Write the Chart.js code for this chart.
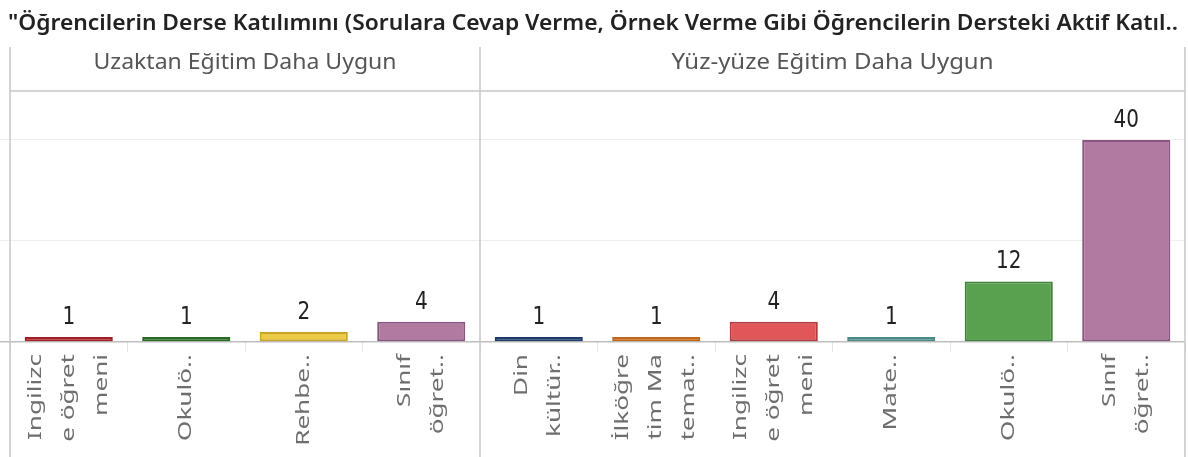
<!DOCTYPE html>
<html lang="tr">
<head>
<meta charset="utf-8">
<script src="https://cdn.jsdelivr.net/npm/chart.js@4.4.1/dist/chart.umd.min.js"></script>
<style>
  html, body { margin: 0; padding: 0; background: #fff; }
  #wrap { position: relative; width: 1188px; height: 457px; overflow: hidden; }
  #chart { position: absolute; left: 0; top: 0; }
  #title {
    position: absolute; left: 8px; top: 6px;
    display: inline-block; white-space: nowrap;
    font: 600 22px/30px "Noto Sans", sans-serif; color: #222;
    transform-origin: 0 0;
  }
</style>
</head>
<body>
<div id="wrap">
  <canvas id="chart" width="1188" height="457"></canvas>
  <div id="title">"Öğrencilerin Derse Katılımını (Sorulara Cevap Verme, Örnek Verme Gibi Öğrencilerin Dersteki Aktif Katıl..</div>
</div>
<script>
// panel basliklari
const panels = ['Uzaktan Eğitim Daha Uygun', 'Yüz-yüze Eğitim Daha Uygun'];

// kategoriler (Tableau'daki gibi kesilmis, satirlara bolunmus)
const leftCategories = [['Ingilizc', 'e öğret', 'meni'], ['Okulö..'], ['Rehbe..'], ['Sınıf', 'öğret..']];
const rightCategories = [['Din', 'kültür..'], ['İlköğre', 'tim Ma', 'temat..'], ['Ingilizc', 'e öğret', 'meni'], ['Mate..'], ['Okulö..'], ['Sınıf', 'öğret..']];

// degerler
const leftValues = [1, 1, 2, 4];
const rightValues = [1, 1, 4, 1, 12, 40];

// y ekseni
const yTicks = [0, 20, 40];
const yMax = 49.7;

// renkler (dolgu / kenar)
const leftFill = ['#e15759', '#59a14f', '#edc948', '#b07aa1'];
const leftEdge = ['#a01f26', '#2a6a26', '#c9a526', '#8a5580'];
const rightFill = ['#4e79a7', '#f28e2b', '#e15759', '#76b7b2', '#59a14f', '#b07aa1'];
const rightEdge = ['#1d3966', '#c0661a', '#b03a3e', '#4a8884', '#3d8237', '#8a5580'];

const categories = leftCategories.concat(rightCategories);
const values = leftValues.concat(rightValues);
const splitIndex = leftCategories.length;

// baslik genisligini referansa uydur
const titleEl = document.getElementById('title');
titleEl.style.transform = 'scaleX(' + (1170 / titleEl.offsetWidth) + ')';

const lineColor = '#c6c6c6';

const panelLines = {
  id: 'panelLines',
  afterDraw(chart) {
    const { ctx, chartArea: a, scales: { x } } = chart;
    const split = (x.getPixelForValue(splitIndex - 1) + x.getPixelForValue(splitIndex)) / 2;
    ctx.save();
    ctx.strokeStyle = lineColor;
    ctx.lineWidth = 1.5;
    [a.left, split, a.right].forEach(px => {
      ctx.beginPath();
      ctx.moveTo(px, 47);
      ctx.lineTo(px, chart.height);
      ctx.stroke();
    });
    ctx.beginPath();
    ctx.moveTo(a.left, a.top);
    ctx.lineTo(a.right, a.top);
    ctx.stroke();

    // panel basliklari
    ctx.font = '22px "Noto Sans"';
    ctx.fillStyle = '#555';
    ctx.textAlign = 'center';
    ctx.textBaseline = 'alphabetic';
    const centers = [(a.left + split) / 2, (split + a.right) / 2];
    const widths = [303, 322];
    panels.forEach((p, i) => {
      const w = ctx.measureText(p).width;
      ctx.save();
      ctx.translate(centers[i], 69);
      ctx.scale(widths[i] / w, 1);
      ctx.fillText(p, 0, 0);
      ctx.restore();
    });

    // x etiketleri (dikey)
    ctx.font = '18px "Noto Sans"';
    ctx.fillStyle = '#6e6e6e';
    ctx.textAlign = 'right';
    ctx.textBaseline = 'middle';
    categories.forEach((lines, i) => {
      const cx = x.getPixelForValue(i);
      lines.forEach((ln, j) => {
        const off = (j - (lines.length - 1) / 2) * 33;
        ctx.save();
        ctx.translate(cx + off, a.bottom + 12);
        ctx.rotate(-Math.PI / 2);
        ctx.scale(1.45, 1);
        ctx.fillText(ln, 0, 0);
        ctx.restore();
      });
    });
    ctx.restore();
  }
};

const valueLabels = {
  id: 'valueLabels',
  afterDatasetsDraw(chart) {
    const { ctx } = chart;
    const meta = chart.getDatasetMeta(0);
    ctx.save();
    ctx.font = '25px "DejaVu Sans"';
    ctx.fillStyle = '#222';
    ctx.textAlign = 'center';
    ctx.textBaseline = 'alphabetic';
    meta.data.forEach((bar, i) => {
      ctx.save();
      ctx.translate(bar.x, bar.y - 13);
      ctx.scale(0.8, 1);
      ctx.fillText(String(values[i]), 0, 0);
      ctx.restore();
    });
    ctx.restore();
  }
};

new Chart(document.getElementById('chart'), {
  type: 'bar',
  data: {
    labels: categories,
    datasets: [{
      data: values,
      backgroundColor: leftFill.concat(rightFill),
      borderColor: leftEdge.concat(rightEdge),
      borderWidth: 2,
      borderSkipped: false,
      barPercentage: 0.75,
      categoryPercentage: 1
    }]
  },
  options: {
    responsive: false,
    animation: false,
    events: [],
    layout: { padding: { top: 91, right: 3, bottom: 105, left: 0 } },
    plugins: { legend: { display: false }, tooltip: { enabled: false } },
    scales: {
      x: {
        offset: true,
        ticks: { display: false },
        border: { display: false },
        grid: { drawOnChartArea: false, drawTicks: true, tickLength: 10, color: '#e4e4e4' }
      },
      y: {
        min: 0,
        max: yMax,
        afterBuildTicks: scale => { scale.ticks = yTicks.map(v => ({ value: v })); },
        ticks: { display: false },
        border: { display: false },
        grid: {
          tickLength: 10,
          color: c => c.tick.value === 0 ? '#bdbdbd' : '#eeeeee',
          lineWidth: c => c.tick.value === 0 ? 1.5 : 1
        }
      }
    }
  },
  plugins: [panelLines, valueLabels]
});
</script>
</body>
</html>
